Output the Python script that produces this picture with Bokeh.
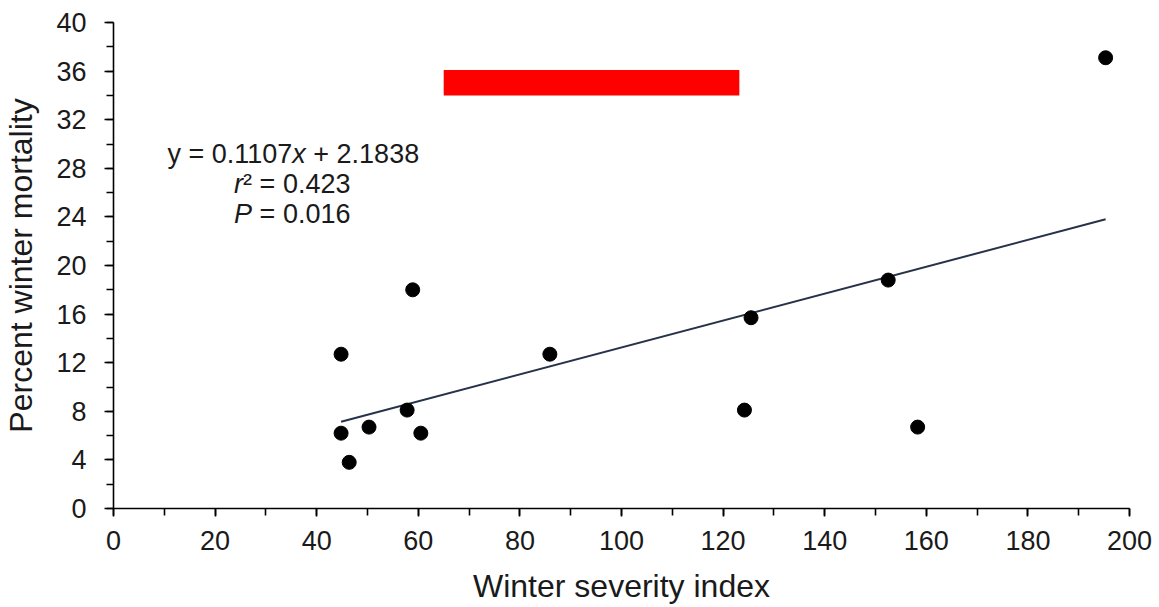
from bokeh.plotting import figure
from bokeh.models import Range1d, SingleIntervalTicker, Label, ColumnDataSource
from bokeh.embed import file_html
from bokeh.resources import INLINE

# ---- data ----
severity = [44.8, 44.8, 46.4, 50.3, 57.8, 58.9, 60.5, 85.9, 124.2, 125.5, 152.5, 158.3, 195.3]
mortality = [12.7, 6.2, 3.8, 6.7, 8.1, 18.0, 6.2, 12.7, 8.1, 15.7, 18.8, 6.7, 37.1]
slope = 0.1107
intercept = 2.1838
r_squared = "0.423"
p_value = "0.016"
red_bar_x = [65.0, 123.2]
red_bar_y = [34.0, 36.1]
x_ticks = [0, 20, 40, 60, 80, 100, 120, 140, 160, 180, 200]
y_ticks = [0, 4, 8, 12, 16, 20, 24, 28, 32, 36, 40]

FONT = "Liberation Sans"
TXT = "#1a1a1a"

p = figure(width=1159, height=607, output_backend="svg", toolbar_location=None,
           x_range=Range1d(x_ticks[0], x_ticks[-1]), y_range=Range1d(y_ticks[0], y_ticks[-1]),
           min_border_left=111, min_border_right=30, min_border_top=22, min_border_bottom=99)
p.outline_line_color = None
p.grid.visible = False
p.background_fill_color = "white"

p.xaxis.ticker = SingleIntervalTicker(interval=x_ticks[1] - x_ticks[0], num_minor_ticks=2)
p.yaxis.ticker = SingleIntervalTicker(interval=y_ticks[1] - y_ticks[0], num_minor_ticks=2)

for ax in (p.xaxis[0], p.yaxis[0]):
    ax.axis_line_color = "black"
    ax.axis_line_width = 1.6
    ax.major_tick_line_color = "black"
    ax.minor_tick_line_color = "black"
    ax.major_tick_line_width = 1.6
    ax.minor_tick_line_width = 1.6
    ax.major_tick_in = 0
    ax.minor_tick_in = 0
    ax.major_label_text_font = FONT
    ax.major_label_text_font_size = "27px"
    ax.major_label_text_color = TXT
    ax.axis_label_text_font = FONT
    ax.axis_label_text_font_size = "32px"
    ax.axis_label_text_font_style = "normal"
    ax.axis_label_text_color = TXT

p.xaxis.major_tick_out = 8
p.xaxis.minor_tick_out = 7
p.yaxis.major_tick_out = 9
p.yaxis.minor_tick_out = 7
p.xaxis.major_label_standoff = 14
p.xaxis.axis_label_standoff = 15
p.yaxis.major_label_standoff = 18
p.yaxis.axis_label_standoff = 14
p.xaxis.axis_label = "Winter severity index"
p.yaxis.axis_label = "Percent winter mortality"

# red bar
p.quad(left=[red_bar_x[0]], right=[red_bar_x[1]], bottom=[red_bar_y[0]], top=[red_bar_y[1]],
       fill_color="#FF0000", line_color=None)

# regression line
x0, x1 = min(severity), max(severity)
p.line([x0, x1], [slope * x0 + intercept, slope * x1 + intercept],
       line_color="#27324a", line_width=2)

# points
src = ColumnDataSource(dict(x=severity, y=mortality))
p.scatter("x", "y", source=src, size=14, fill_color="black", line_color="black")

# annotation text (centered block)
ax_x = 35.2
base = [29.16, 26.69, 24.22]
fs = "27px"

def lab(text, y, off, align, style="normal"):
    p.add_layout(Label(x=ax_x, y=y, x_offset=off, text=text, text_font=FONT,
                       text_font_size=fs, text_font_style=style, text_color=TXT,
                       text_align=align, text_baseline="alphabetic"))

lab(f"y = {slope}", base[0], 0, "right")
lab("x", base[0], 0, "left", "italic")
lab(f"+ {intercept}", base[0], 21, "left")

lab("r", base[1], -49.2, "right", "italic")
lab(f"\u00b2 = {r_squared}", base[1], -49.2, "left")

lab("P", base[2], -40.2, "right", "italic")
lab(f"= {p_value}", base[2], -32.7, "left")

open("out.html", "w").write(file_html(p, INLINE))
